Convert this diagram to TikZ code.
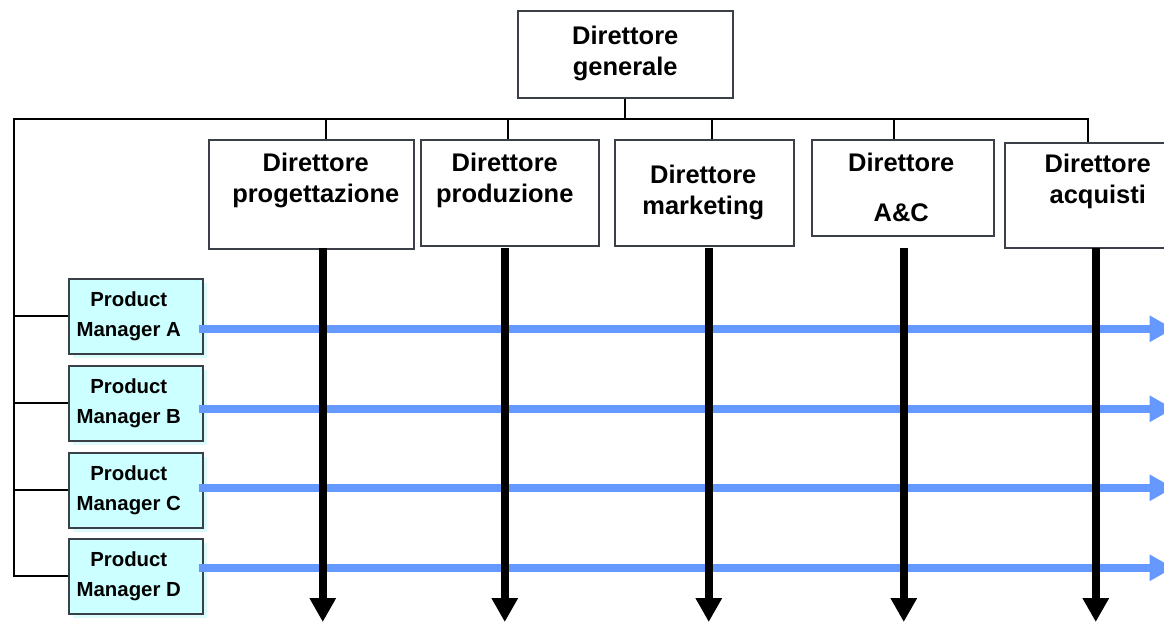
\documentclass[tikz,border=0pt]{standalone}
\usepackage{fontspec}
\setmainfont{Liberation Sans}
\usetikzlibrary{arrows.meta, positioning, calc, shadows}
\definecolor{boxLine}{HTML}{3A3F48}
\definecolor{pmFill}{HTML}{CCFFFF}
\definecolor{pmShadow}{HTML}{DDFBFB}
\definecolor{flowBlue}{HTML}{6699FF}

\begin{document}
\begin{tikzpicture}[x=0.02cm, y=-0.02cm,
  box/.style={draw=boxLine, line width=0.9pt, fill=white, anchor=north west, inner sep=0pt},
  boxtext/.style={anchor=north, align=center, inner sep=0pt, font=\fontsize{14.5}{17.6}\selectfont\bfseries},
  pm/.style={draw=boxLine, line width=0.9pt, fill=pmFill, anchor=north west, inner sep=0pt,
             minimum width=2.68cm, minimum height=1.5cm, align=center,
             font=\fontsize{11.6}{17}\selectfont\bfseries,
             drop shadow={fill=pmShadow, opacity=1, shadow xshift=0.08cm, shadow yshift=-0.08cm}},
  link/.style={line width=1.1pt},
  duty/.style={-{Triangle[length=0.48cm, width=0.5cm]}, line width=0.16cm},
  flow/.style={-{Triangle[length=0.48cm, width=0.5cm]}, line width=0.16cm, draw=flowBlue}
]
\useasboundingbox (0,0) rectangle (1164,622);

\node[box, minimum width=4.3cm, minimum height=1.74cm] (dg) at (517,10) {};
\node[boxtext] (dgt) at ($(dg.north)+(0,16)$) {Direttore\\generale};

\node[box, minimum width=4.1cm, minimum height=2.18cm] (dprog) at (208,139) {};
\node[boxtext] (dprogt) at ($(dprog.north)+(4.5,14)$) {Direttore\\progettazione};
\node[box, minimum width=3.56cm, minimum height=2.12cm] (dprod) at (420,139) {};
\node[boxtext] (dprodt) at ($(dprod.north)+(-5,14)$) {Direttore\\produzione};
\node[box, minimum width=3.58cm, minimum height=2.12cm] (dmark) at (614,139) {};
\node[boxtext] (dmarkt) at ($(dmark.north)+(-1,26)$) {Direttore\\marketing};
\node[box, minimum width=3.64cm, minimum height=1.92cm] (dac) at (811,139) {};
\node[boxtext] (dact) at ($(dac.north)+(-1.5,14)$) {Direttore\\[10.7pt]A\&C};
\node[box, minimum width=3.72cm, minimum height=2.1cm] (dacq) at (1004,142) {};
\node[boxtext] (dacqt) at ($(dacq.north)+(0,12)$) {Direttore\\acquisti};

\node[pm] (pmA) at (68,278) {Product\hspace*{0.28cm}\\Manager A\hspace*{0.28cm}};
\node[pm] (pmB) at (68,365) {Product\hspace*{0.28cm}\\Manager B\hspace*{0.28cm}};
\node[pm] (pmC) at (68,452) {Product\hspace*{0.28cm}\\Manager C\hspace*{0.28cm}};
\node[pm] (pmD) at (68,538) {Product\hspace*{0.28cm}\\Manager D\hspace*{0.28cm}};

\coordinate (busL) at (14,119);
\coordinate (atop) at (0,248);
\draw[link] (pmD.west) -| (busL) -| ($(dacq.north)+(-10,0)$);
\foreach \n in {pmA,pmB,pmC} \draw[link] (\n.west) -- (\n.west -| busL);
\draw[link] (dg.south) -- (dg.south |- busL);
\foreach \n/\dx in {dprog/14.5, dprod/-2, dmark/7.5, dac/-9} \draw[link] ($(\n.north)+(\dx,0)$) |- (busL);

\foreach \n/\dy in {pmA/12.5, pmB/5.5, pmC/-2.5, pmD/-8.5} \draw[flow] (\n.east) ++(-5,\dy) -- ++(975,0);
\foreach \n/\dx in {dprog/11.5, dprod/-5, dmark/4.5, dac/1, dacq/-2} \draw[duty] (\n.south |- atop) ++(\dx,0) -- ++(0,374);
\end{tikzpicture}
\end{document}
